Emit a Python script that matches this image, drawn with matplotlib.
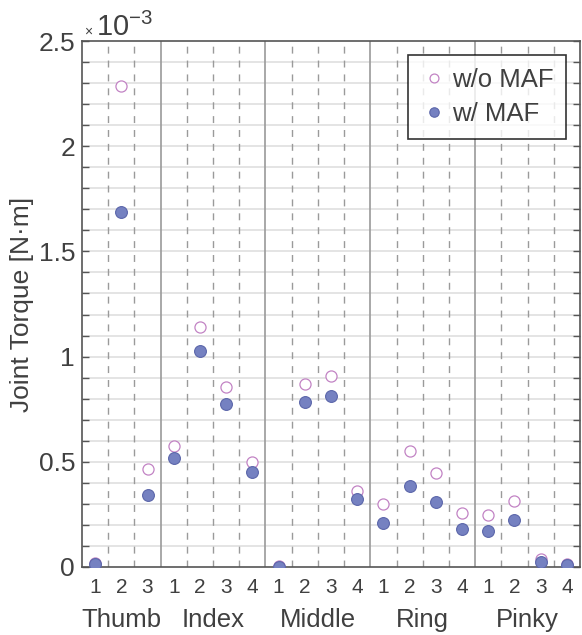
import numpy as np
import matplotlib.pyplot as plt
from matplotlib.ticker import FixedLocator, MultipleLocator, FuncFormatter

plt.rcParams['font.family'] = ['Liberation Sans', 'DejaVu Sans']

# joint torque values, in units of 1e-3 N*m
fingers = ["Thumb", "Index", "Middle", "Ring", "Pinky"]
joints_per_finger = [3, 4, 4, 4, 4]
without_maf = [0.02, 2.285, 0.467,
               0.576, 1.140, 0.857, 0.500,
               0.003, 0.868, 0.906, 0.362,
               0.300, 0.553, 0.446, 0.257,
               0.246, 0.316, 0.039, 0.012]
with_maf = [0.012, 1.686, 0.344,
            0.519, 1.029, 0.773, 0.451,
            0.000, 0.782, 0.814, 0.324,
            0.208, 0.386, 0.311, 0.181,
            0.172, 0.221, 0.023, 0.010]
scale = 1e-3

txt = '#404040'
n = sum(joints_per_finger)
x = np.arange(n) + 0.5
joint_labels = [str(j + 1) for k in joints_per_finger for j in range(k)]

fig = plt.figure(figsize=(5.82, 6.35), dpi=100)
ax = fig.add_axes([0.1409, 0.1071, 0.9966 - 0.1409, 0.9354 - 0.1071])

# horizontal grid every 0.1e-3
for v in np.arange(0.1, 2.5, 0.1):
    ax.axhline(v * scale, color='#dcdcdc', lw=1.1, zorder=0)

# vertical separators
bounds = np.cumsum(joints_per_finger)
start = 0
for k, b in zip(joints_per_finger, bounds):
    for d in range(start + 1, b):
        ax.axvline(d, color='#9a9a9a', lw=1.0, ls=(0, (5, 5)), zorder=1)
    if b < n:
        ax.axvline(b, color='#9a9a9a', lw=1.2, zorder=1)
    start = b

ax.plot(x, np.array(without_maf) * scale, 'o', ms=8, mfc='white',
        mec='#c283c4', mew=0.9, label='w/o MAF', zorder=3)
ax.plot(x, np.array(with_maf) * scale, 'o', ms=8.5, mfc='#7581c1',
        mec='#5b66aa', mew=0.8, label='w/ MAF', zorder=4)

ax.set_xlim(0, n)
ax.set_ylim(0, 2.5 * scale)
ax.xaxis.set_major_locator(FixedLocator(x))
ax.set_xticklabels(joint_labels)
ax.tick_params(axis='x', length=0, pad=8, labelsize=15, colors=txt)
ax.yaxis.set_major_locator(MultipleLocator(0.5 * scale))
ax.yaxis.set_minor_locator(MultipleLocator(0.1 * scale))
ax.yaxis.set_major_formatter(FuncFormatter(lambda v, p: '%g' % round(v / scale, 3)))
ax.tick_params(axis='y', which='both', direction='in', length=5, width=1,
               left=True, right=True, labelsize=19, colors=txt, pad=5)
ax.tick_params(axis='y', which='both', color='#555555')
for s in ax.spines.values():
    s.set_color('#555555')
    s.set_linewidth(1.2)

ax.set_ylabel('Joint Torque [N·m]', fontsize=19, color=txt, labelpad=3)

# finger names under the joint numbers
start = 0
for name, b in zip(fingers, bounds):
    ax.text((start + b) / 2, -0.1, name, transform=ax.get_xaxis_transform(),
            ha='center', va='center', fontsize=18.5, color=txt)
    start = b

# exponent label at top left
fig.text(84 / 582, 1 - 32 / 635, '×', fontsize=10, color=txt, va='center')
fig.text(96 / 582, 1 - 27 / 635, r'10$^{\mathregular{-3}}$', fontsize=21,
         color=txt, va='center')

leg = ax.legend(loc='upper right', bbox_to_anchor=(0.972, 0.973), fontsize=18.5,
                frameon=True, fancybox=False, handletextpad=0.2,
                handlelength=1.0, borderpad=0.5, labelspacing=0.4,
                borderaxespad=0, markerscale=0.8)
leg.get_frame().set_edgecolor('black')
leg.get_frame().set_linewidth(1.2)
for t in leg.get_texts():
    t.set_color(txt)

fig.savefig('out.png', dpi=100)
